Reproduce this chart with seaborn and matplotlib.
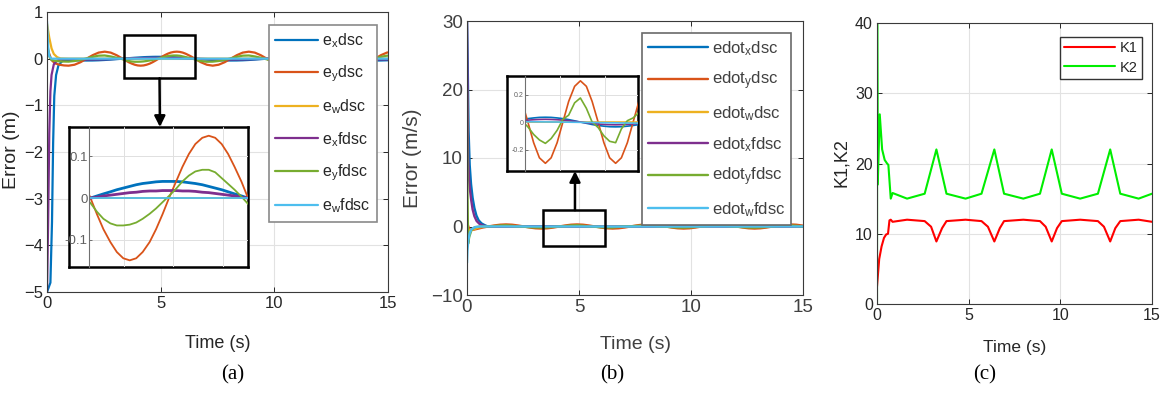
import matplotlib
matplotlib.use("Agg")
import matplotlib.pyplot as plt
import seaborn as sns
from matplotlib.patches import Rectangle, ConnectionPatch

# ------------------------------------------------------------------ data
# common steady-state sampling times (s)
t_ss = [0.95, 1.21, 1.48, 1.74, 2.01, 2.27, 2.54, 2.80, 3.06, 3.33, 3.59, 3.86,
        4.12, 4.38, 4.65, 4.91, 5.18, 5.44, 5.71, 5.97, 6.23, 6.50, 6.76, 7.03,
        7.29, 7.55, 7.82, 8.08, 8.35, 8.61, 8.88, 9.14, 9.40, 9.67, 9.93, 10.20,
        10.46, 10.72, 10.99, 11.25, 11.52, 11.78, 12.05, 12.31, 12.57, 12.84, 13.10, 13.37,
        13.63, 13.90, 14.16, 14.42, 14.69, 14.95, 15.22]
# finer sampling inside the zoomed window of panel (a)
t_win = [3.33, 3.46, 3.59, 3.73, 3.86, 3.99, 4.12, 4.25, 4.38, 4.52, 4.65, 4.78, 4.91,
         5.05, 5.18, 5.31, 5.44, 5.58, 5.71, 5.84, 5.97, 6.10, 6.23, 6.37, 6.50]

# ---- panel (a): position errors (m)
ex_dsc_t0 = [0.0, 0.15, 0.22, 0.27, 0.32, 0.40, 0.50, 0.65, 0.80]
ex_dsc_v0 = [-5.0, -4.8, -3.5, -1.8, -0.8, -0.35, -0.15, -0.06, -0.03]
ex_dsc_ss = [-0.028, -0.035, -0.039, -0.04, -0.039, -0.035, -0.028, -0.02, -0.01, 0.0, 0.01, 0.02,
             0.028, 0.035, 0.039, 0.04, 0.039, 0.035, 0.028, 0.02, 0.01, 0.0, -0.01, -0.02,
             -0.028, -0.035, -0.039, -0.04, -0.039, -0.035, -0.028, -0.02, -0.01, 0.0, 0.01, 0.02,
             0.028, 0.035, 0.039, 0.04, 0.039, 0.035, 0.028, 0.02, 0.01, 0.0, -0.01, -0.02,
             -0.028, -0.035, -0.039, -0.04, -0.039, -0.035, -0.028]
ex_dsc_win = [0.0, 0.005, 0.01, 0.015, 0.02, 0.024, 0.028, 0.032, 0.035, 0.037, 0.039, 0.04, 0.04,
              0.04, 0.039, 0.037, 0.035, 0.032, 0.028, 0.024, 0.02, 0.015, 0.01, 0.005, 0.0]

ey_dsc_t0 = [0.0, 0.1, 0.2, 0.35, 0.55, 0.75]
ey_dsc_v0 = [0.25, 0.1, -0.03, -0.1, -0.13, -0.145]
ey_dsc_ss = [-0.15, -0.13, -0.075, 0.0, 0.075, 0.13, 0.15, 0.13, 0.075, 0.0, -0.075, -0.13,
             -0.15, -0.13, -0.075, 0.0, 0.075, 0.13, 0.15, 0.13, 0.075, 0.0, -0.075, -0.13,
             -0.15, -0.13, -0.075, 0.0, 0.075, 0.13, 0.15, 0.13, 0.075, 0.0, -0.075, -0.13,
             -0.15, -0.13, -0.075, 0.0, 0.075, 0.13, 0.15, 0.13, 0.075, 0.0, -0.075, -0.13,
             -0.15, -0.13, -0.075, 0.0, 0.075, 0.13, 0.15]
ey_dsc_win = [0.0, -0.039, -0.075, -0.106, -0.13, -0.145, -0.15, -0.145, -0.13, -0.106, -0.075, -0.039, 0.0,
              0.039, 0.075, 0.106, 0.13, 0.145, 0.15, 0.145, 0.13, 0.106, 0.075, 0.039, 0.0]

ew_dsc_t = [0.0, 0.1, 0.2, 0.3, 0.45, 0.6, 0.95, 15.2]
ew_dsc_v = [0.75, 0.45, 0.22, 0.1, 0.03, 0.005, 0.0, 0.0]

ex_fdsc_t0 = [0.0, 0.05, 0.1, 0.15, 0.2, 0.3, 0.45, 0.6]
ex_fdsc_v0 = [-5.0, -3.5, -1.6, -0.7, -0.35, -0.12, -0.04, -0.02]
ex_fdsc_ss = [-0.013, -0.016, -0.017, -0.018, -0.017, -0.016, -0.013, -0.009, -0.005, 0.0, 0.005, 0.009,
              0.013, 0.016, 0.017, 0.018, 0.017, 0.016, 0.013, 0.009, 0.005, 0.0, -0.005, -0.009,
              -0.013, -0.016, -0.017, -0.018, -0.017, -0.016, -0.013, -0.009, -0.005, 0.0, 0.005, 0.009,
              0.013, 0.016, 0.017, 0.018, 0.017, 0.016, 0.013, 0.009, 0.005, 0.0, -0.005, -0.009,
              -0.013, -0.016, -0.017, -0.018, -0.017, -0.016, -0.013]
ex_fdsc_win = [0.0, 0.002, 0.005, 0.007, 0.009, 0.011, 0.013, 0.014, 0.016, 0.017, 0.017, 0.018, 0.018,
               0.018, 0.017, 0.017, 0.016, 0.014, 0.013, 0.011, 0.009, 0.007, 0.005, 0.002, 0.0]

ey_fdsc_t0 = [0.0, 0.05, 0.1, 0.2, 0.4, 0.6]
ey_fdsc_v0 = [0.4, 0.2, 0.05, -0.03, -0.05, -0.06]
ey_fdsc_ss = [-0.064, -0.05, -0.025, 0.005, 0.04, 0.064, 0.068, 0.048, 0.02, -0.014, -0.05, -0.066,
              -0.064, -0.05, -0.025, 0.005, 0.04, 0.064, 0.068, 0.048, 0.02, -0.014, -0.05, -0.066,
              -0.064, -0.05, -0.025, 0.005, 0.04, 0.064, 0.068, 0.048, 0.02, -0.014, -0.05, -0.066,
              -0.064, -0.05, -0.025, 0.005, 0.04, 0.064, 0.068, 0.048, 0.02, -0.014, -0.05, -0.066,
              -0.064, -0.05, -0.025, 0.005, 0.04, 0.064, 0.068]
ey_fdsc_win = [-0.012, -0.033, -0.05, -0.061, -0.066, -0.066, -0.064, -0.059, -0.05, -0.038, -0.025, -0.01, 0.005,
               0.022, 0.04, 0.054, 0.064, 0.068, 0.068, 0.062, 0.048, 0.034, 0.02, 0.003, -0.014]

ew_fdsc_t = [0.0, 0.03, 0.06, 0.1, 0.2, 15.2]
ew_fdsc_v = [0.8, 0.5, 0.2, 0.05, 0.0, 0.0]

labels_a = ["e$_x$dsc", "e$_y$dsc", "e$_w$dsc", "e$_x$fdsc", "e$_y$fdsc", "e$_w$fdsc"]

# ---- panel (b): velocity errors (m/s)
edx_dsc_t0 = [0.0, 0.03, 0.07, 0.12, 0.18, 0.25, 0.33, 0.42, 0.52, 0.65, 0.8]
edx_dsc_v0 = [30.0, 24.0, 14.0, 9.0, 6.2, 4.2, 2.7, 1.6, 0.9, 0.45, 0.18]
edx_dsc_ss = [-0.025, -0.018, -0.009, 0.0, 0.009, 0.018, 0.025, 0.03, 0.034, 0.035, 0.034, 0.03,
              0.025, 0.018, 0.009, 0.0, -0.009, -0.018, -0.025, -0.03, -0.034, -0.035, -0.034, -0.03,
              -0.025, -0.018, -0.009, 0.0, 0.009, 0.018, 0.025, 0.03, 0.034, 0.035, 0.034, 0.03,
              0.025, 0.018, 0.009, 0.0, -0.009, -0.018, -0.025, -0.03, -0.034, -0.035, -0.034, -0.03,
              -0.025, -0.018, -0.009, 0.0, 0.009, 0.018, 0.025]

edy_dsc_t0 = [0.0, 0.1, 0.25, 0.45, 0.7]
edy_dsc_v0 = [0.6, -0.4, -0.5, -0.35, -0.15]
edy_dsc_ss = [0.0, 0.15, 0.26, 0.3, 0.26, 0.15, 0.0, -0.15, -0.26, -0.3, -0.26, -0.15,
              0.0, 0.15, 0.26, 0.3, 0.26, 0.15, 0.0, -0.15, -0.26, -0.3, -0.26, -0.15,
              0.0, 0.15, 0.26, 0.3, 0.26, 0.15, 0.0, -0.15, -0.26, -0.3, -0.26, -0.15,
              0.0, 0.15, 0.26, 0.3, 0.26, 0.15, 0.0, -0.15, -0.26, -0.3, -0.26, -0.15,
              0.0, 0.15, 0.26, 0.3, 0.26, 0.15, 0.0]

edw_dsc_t = [0.0, 0.05, 0.15, 0.3, 0.5, 0.8, 15.2]
edw_dsc_v = [0.0, -0.4, -0.6, -0.4, -0.15, 0.0, 0.0]

edx_fdsc_t0 = [0.0, 0.02, 0.05, 0.09, 0.13, 0.19, 0.25, 0.33, 0.43, 0.55, 0.7]
edx_fdsc_v0 = [30.0, 22.0, 10.0, 7.0, 5.4, 3.8, 2.5, 1.5, 0.8, 0.4, 0.15]
edx_fdsc_ss = [-0.014, -0.01, -0.005, 0.0, 0.005, 0.01, 0.014, 0.017, 0.019, 0.02, 0.019, 0.017,
               0.014, 0.01, 0.005, 0.0, -0.005, -0.01, -0.014, -0.017, -0.019, -0.02, -0.019, -0.017,
               -0.014, -0.01, -0.005, 0.0, 0.005, 0.01, 0.014, 0.017, 0.019, 0.02, 0.019, 0.017,
               0.014, 0.01, 0.005, 0.0, -0.005, -0.01, -0.014, -0.017, -0.019, -0.02, -0.019, -0.017,
               -0.014, -0.01, -0.005, 0.0, 0.005, 0.01, 0.014]

edy_fdsc_t0 = [0.0, 0.02, 0.05, 0.1, 0.2, 0.35, 0.6]
edy_fdsc_v0 = [20.0, 5.0, -2.5, -1.5, -0.5, -0.1, 0.0]
edy_fdsc_ss = [0.02, 0.06, 0.13, 0.17, 0.09, 0.01, -0.035, -0.09, -0.13, -0.155, -0.12, -0.06,
               0.02, 0.05, 0.14, 0.175, 0.1, 0.0, -0.04, -0.1, -0.14, -0.15, -0.05, 0.01,
               0.03, 0.07, 0.13, 0.165, 0.09, 0.01, -0.03, -0.09, -0.13, -0.155, -0.12, -0.06,
               0.02, 0.06, 0.13, 0.17, 0.1, 0.01, -0.035, -0.09, -0.13, -0.15, -0.12, -0.06,
               0.02, 0.06, 0.13, 0.17, 0.09, 0.01, -0.035]

edw_fdsc_t = [0.0, 0.02, 0.06, 0.12, 0.2, 0.35, 0.6, 4.0, 7.5, 15.2]
edw_fdsc_v = [-5.3, -3.5, -2.0, -1.0, -0.4, -0.1, 0.005, 0.0, -0.008, 0.0]

labels_b = ["edot$_x$dsc", "edot$_y$dsc", "edot$_w$dsc",
            "edot$_x$fdsc", "edot$_y$fdsc", "edot$_w$fdsc"]

# ---- panel (c): adaptive gains
k1_t = [0.0, 0.12, 0.25, 0.38, 0.5, 0.6, 0.68, 0.75, 0.85,
        1.64, 2.6, 2.95, 3.24, 3.55, 3.79,
        4.83, 5.7, 6.05, 6.4, 6.7, 6.93,
        7.98, 8.89, 9.2, 9.53, 9.82, 10.08,
        11.08, 12.05, 12.38, 12.72, 13.0, 13.27,
        14.27, 15.0]
k1_v = [2.5, 6.4, 8.2, 9.4, 9.9, 10.0, 11.9, 12.0, 11.7,
        12.0, 11.8, 11.0, 8.9, 10.8, 11.8,
        12.0, 11.8, 11.0, 8.9, 10.8, 11.8,
        12.0, 11.8, 11.0, 8.9, 10.8, 11.8,
        12.0, 11.8, 11.0, 8.9, 10.8, 11.8,
        12.0, 11.7]
k2_t = [0.0, 0.01, 0.04, 0.15, 0.28, 0.42, 0.55, 0.62, 0.75, 0.85,
        1.64, 2.6, 3.24, 3.79, 4.83, 5.7, 6.4, 6.93, 7.98, 8.89, 9.53, 10.08,
        11.08, 12.05, 12.72, 13.27, 14.27, 15.0]
k2_v = [0.0, 40.0, 17.0, 27.0, 22.0, 20.5, 20.0, 19.8, 15.0, 15.8,
        15.0, 15.7, 22.0, 15.7, 15.0, 15.7, 22.0, 15.7, 15.0, 15.7, 22.0, 15.7,
        15.0, 15.7, 22.0, 15.7, 15.0, 15.7]
labels_c = ["K1", "K2"]

# ------------------------------------------------------------------ style
sns.set_theme(style="whitegrid")
plt.rcParams.update({
    "font.family": ["Liberation Sans", "DejaVu Sans"],
    "mathtext.default": "regular",
    "axes.edgecolor": "#262626",
    "axes.linewidth": 0.8,
    "axes.facecolor": "white",
    "grid.color": "#e2e2e2",
    "grid.linewidth": 0.8,
    "xtick.direction": "in", "ytick.direction": "in",
    "xtick.bottom": True, "ytick.left": True,
    "xtick.top": True, "ytick.right": True,
    "xtick.major.size": 3.5, "ytick.major.size": 3.5,
    "xtick.major.width": 0.7, "ytick.major.width": 0.7,
    "xtick.color": "#262626", "ytick.color": "#262626",
    "text.color": "#262626", "axes.labelcolor": "#262626",
})

C_BLUE, C_ORANGE, C_YELLOW = "#0072BD", "#D95319", "#EDB120"
C_PURPLE, C_GREEN, C_LBLUE = "#7E2F8E", "#77AC30", "#4DBEEE"
colors6 = [C_BLUE, C_ORANGE, C_YELLOW, C_PURPLE, C_GREEN, C_LBLUE]

W, H = 1164.0, 393.0
fig = plt.figure(figsize=(W / 100, H / 100), dpi=100)


def px_axes(x0, y0, x1, y1):
    return fig.add_axes([x0 / W, 1 - y1 / H, (x1 - x0) / W, (y1 - y0) / H])


def draw(ax, t, v, color, lw):
    sns.lineplot(x=t, y=v, ax=ax, color=color, linewidth=lw,
                 estimator=None, sort=False, legend=False)
    return ax.lines[-1]


def style_main(ax, xlim, ylim, yticks, tick_fs):
    ax.set_xlim(*xlim)
    ax.set_ylim(*ylim)
    ax.set_xticks([0, 5, 10, 15])
    ax.set_yticks(yticks)
    ax.tick_params(labelsize=tick_fs, pad=3)
    ax.grid(True)
    for s in ax.spines.values():
        s.set_color("#3a3a3a")
        s.set_linewidth(0.8)


def inset_frame(x0, y0, x1, y1):
    fr = px_axes(x0, y0, x1, y1)
    fr.set_facecolor("white")
    fr.set_xticks([])
    fr.set_yticks([])
    fr.grid(False)
    for s in fr.spines.values():
        s.set_color("black")
        s.set_linewidth(1.8)
    return fr


def style_inset(ax, xlim, ylim, xticks, yticks, ylabels, fs):
    ax.set_facecolor("none")
    ax.set_xlim(*xlim)
    ax.set_ylim(*ylim)
    ax.set_xticks(xticks)
    ax.set_xticklabels([])
    ax.set_yticks(yticks)
    ax.set_yticklabels(ylabels)
    ax.grid(True, color="#e0e0e0", linewidth=0.7)
    for k in ["top", "right", "bottom"]:
        ax.spines[k].set_visible(False)
    ax.spines["left"].set_color("#707070")
    ax.spines["left"].set_linewidth(0.8)
    ax.tick_params(axis="both", which="both", top=False, right=False, bottom=False,
                   length=2.5, labelsize=fs, labelcolor="#606060", color="#707070", pad=1)


# ------------------------------------------------------------------ panel (a)
series_a = [
    (ex_dsc_t0 + t_ss[:9] + t_win + t_ss[22:], ex_dsc_v0 + ex_dsc_ss[:9] + ex_dsc_win + ex_dsc_ss[22:]),
    (ey_dsc_t0 + t_ss[:9] + t_win + t_ss[22:], ey_dsc_v0 + ey_dsc_ss[:9] + ey_dsc_win + ey_dsc_ss[22:]),
    (ew_dsc_t, ew_dsc_v),
    (ex_fdsc_t0 + t_ss[:9] + t_win + t_ss[22:], ex_fdsc_v0 + ex_fdsc_ss[:9] + ex_fdsc_win + ex_fdsc_ss[22:]),
    (ey_fdsc_t0 + t_ss[:9] + t_win + t_ss[22:], ey_fdsc_v0 + ey_fdsc_ss[:9] + ey_fdsc_win + ey_fdsc_ss[22:]),
    (ew_fdsc_t, ew_fdsc_v),
]
axA = px_axes(47, 12, 388, 292)
hA = [draw(axA, t, v, c, 1.6) for (t, v), c in zip(series_a, colors6)]
style_main(axA, (0, 15), (-5, 1), [-5, -4, -3, -2, -1, 0, 1], 12)
axA.set_xlabel("Time (s)", fontsize=13)
axA.xaxis.set_label_coords(0.5, -0.152)
axA.set_ylabel("Error (m)", fontsize=14)
axA.yaxis.set_label_coords(-0.078, 0.507)
legA = axA.legend(hA, labels_a, loc="upper right", bbox_to_anchor=(0.968, 0.954),
                  borderaxespad=0, fontsize=11.5, handlelength=2.7, handletextpad=0.25,
                  labelspacing=0.85, borderpad=0.4, fancybox=False, framealpha=1,
                  edgecolor="#8a8a8a")
legA.get_frame().set_linewidth(1.2)
axA.add_patch(Rectangle((3.39, -0.42), 3.12, 0.93, fill=False, ec="black", lw=1.8, zorder=6))

frA = inset_frame(69, 127, 248, 267)
inA = px_axes(89, 127, 248, 267)
for (t, v), c in zip(series_a, colors6):
    draw(inA, t, v, c, 2.0 if c in (C_BLUE, C_PURPLE) else 1.3)
style_inset(inA, (3.3, 6.5), (-0.166, 0.171), [4, 5, 6], [-0.1, 0, 0.1],
            ["-0.1", "0", "0.1"], 9.5)
fig.add_artist(ConnectionPatch(xyA=(4.95, -0.42), coordsA=axA.transData,
                               xyB=(0.508, 1.0), coordsB=frA.transAxes,
                               arrowstyle="-|>", mutation_scale=16, lw=1.8,
                               color="black", zorder=10))

# ------------------------------------------------------------------ panel (b)
series_b = [
    (edx_dsc_t0 + t_ss, edx_dsc_v0 + edx_dsc_ss),
    (edy_dsc_t0 + t_ss, edy_dsc_v0 + edy_dsc_ss),
    (edw_dsc_t, edw_dsc_v),
    (edx_fdsc_t0 + t_ss, edx_fdsc_v0 + edx_fdsc_ss),
    (edy_fdsc_t0 + t_ss, edy_fdsc_v0 + edy_fdsc_ss),
    (edw_fdsc_t, edw_fdsc_v),
]
axB = px_axes(467, 21, 803, 295)
hB = [draw(axB, t, v, c, 1.7) for (t, v), c in zip(series_b, colors6)]
style_main(axB, (0, 15), (-10, 30), [-10, 0, 10, 20, 30], 13.5)
axB.tick_params(labelcolor="#404040")
axB.set_xlabel("Time (s)", fontsize=14, color="#404040")
axB.xaxis.set_label_coords(0.5, -0.15)
axB.set_ylabel("Error (m/s)", fontsize=15, color="#404040")
axB.yaxis.set_label_coords(-0.135, 0.5)
legB = axB.legend(hB, labels_b, loc="upper right", bbox_to_anchor=(0.964, 0.956),
                  borderaxespad=0, fontsize=12, handlelength=3.6, handletextpad=0.2,
                  labelspacing=0.72, borderpad=0.35, fancybox=False, framealpha=1,
                  edgecolor="#6a6a6a")
legB.get_frame().set_linewidth(1.2)
for txt in legB.get_texts():
    txt.set_color("#404040")
axB.add_patch(Rectangle((3.38, -2.88), 2.78, 5.26, fill=False, ec="black", lw=1.8, zorder=6))

frB = inset_frame(507, 76, 638, 171)
inB = px_axes(525, 76, 638, 171)
for (t, v), c in zip(series_b, colors6):
    draw(inB, t, v, c, 1.2)
style_inset(inB, (2.41, 7.51), (-0.356, 0.335), [4, 6], [-0.2, 0, 0.2],
            ["-0.2", "0", "0.2"], 5)
fig.add_artist(ConnectionPatch(xyA=(4.82, 2.38), coordsA=axB.transData,
                               xyB=(0.519, 0.0), coordsB=frB.transAxes,
                               arrowstyle="-|>", mutation_scale=16, lw=1.8,
                               color="black", zorder=10))

# ------------------------------------------------------------------ panel (c)
axC = px_axes(877, 23, 1152, 304)
hC = [draw(axC, k1_t, k1_v, "#FF0000", 1.5), draw(axC, k2_t, k2_v, "#00EE00", 1.5)]
style_main(axC, (0, 15), (0, 40), [0, 10, 20, 30, 40], 11.5)
axC.set_xlabel("Time (s)", fontsize=12.5)
axC.xaxis.set_label_coords(0.5, -0.127)
axC.set_ylabel("K1,K2", fontsize=13)
axC.yaxis.set_label_coords(-0.1, 0.505)
legC = axC.legend(hC, labels_c, loc="upper right", bbox_to_anchor=(0.964, 0.95),
                  borderaxespad=0, fontsize=10.5, handlelength=3.5, handletextpad=0.3,
                  labelspacing=0.35, borderpad=0.3, fancybox=False, framealpha=1,
                  edgecolor="#333333")
legC.get_frame().set_linewidth(1.0)

# ------------------------------------------------------------------ captions
for xc, cap in [(233, "(a)"), (612, "(b)"), (985, "(c)")]:
    fig.text(xc / W, 1 - 375 / H, cap, ha="center", va="center", fontsize=15,
             family=["Liberation Serif", "DejaVu Serif"], color="black")

fig.savefig("out.png", dpi=100)
